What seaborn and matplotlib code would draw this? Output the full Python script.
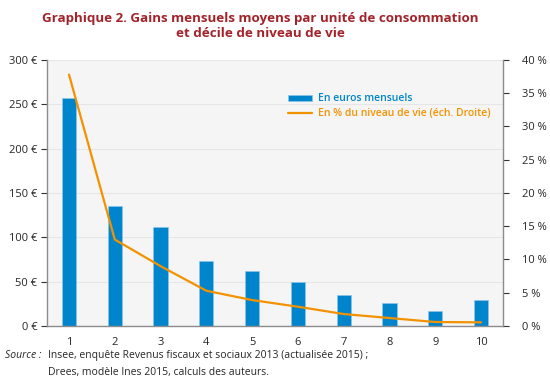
import numpy as np
import pandas as pd
import matplotlib
matplotlib.use('Agg')
import matplotlib.pyplot as plt
import seaborn as sns
from matplotlib.ticker import FuncFormatter

# Données
deciles = ['1', '2', '3', '4', '5', '6', '7', '8', '9', '10']
gains_euros = [257, 135, 112, 73, 62, 50, 35, 26, 17, 29]
gains_pct = [37.8, 13.0, 9.0, 5.3, 3.9, 2.9, 1.8, 1.2, 0.6, 0.55]

sns.set_theme(style='white')
plt.rcParams['font.family'] = ['Open Sans', 'DejaVu Sans']

bleu = '#0085CC'
orange = '#F39200'
rouge = '#A3232A'

df = pd.DataFrame({'decile': deciles, 'euros': gains_euros, 'pct': gains_pct})

fig = plt.figure(figsize=(5.5, 3.88), dpi=100)
ax = fig.add_axes([0.0855, 0.1598, 0.829, 0.6856])
ax.set_facecolor('#F5F5F5')

sns.barplot(data=df, x='decile', y='euros', color=bleu, width=0.31,
            edgecolor='#8CC6EA', linewidth=0.5, saturation=1, ax=ax,
            label='En euros mensuels')
ax.set_ylim(0, 300)
ax.set_xlim(-0.48, 9.48)
ax.set_yticks(range(0, 301, 50))
ax.yaxis.set_major_formatter(FuncFormatter(lambda v, p: f'{int(v)} €'))
ax.grid(axis='y', color='#E6E6E6', linewidth=0.8)
ax.set_axisbelow(True)
ax.set_xlabel('')
ax.set_ylabel('')
ax.tick_params(axis='y', left=True, length=4, width=0.8, color='#333333',
               labelsize=8, pad=3)
ax.tick_params(axis='x', bottom=False, labelsize=8, pad=2)
ax.spines['top'].set_visible(False)
ax.spines['right'].set_visible(False)
for s in ['left', 'bottom']:
    ax.spines[s].set_color('#8C8C8C')
    ax.spines[s].set_linewidth(1.0)

ax2 = ax.twinx()
sns.lineplot(x=np.arange(len(deciles)), y=gains_pct, color=orange,
             linewidth=1.6, ax=ax2, label='En % du niveau de vie (éch. Droite)')
ax2.set_ylim(0, 40)
ax2.set_yticks(range(0, 41, 5))
ax2.yaxis.set_major_formatter(FuncFormatter(lambda v, p: f'{int(v)} %'))
ax2.tick_params(axis='y', right=True, length=4, width=0.8, color='#333333',
                labelsize=8, pad=10)
for s in ['top', 'left', 'bottom']:
    ax2.spines[s].set_visible(False)
ax2.spines['right'].set_color('#8C8C8C')
ax2.spines['right'].set_linewidth(1.0)
ax2.set_ylabel('')
ax2.grid(False)

h1, l1 = ax.get_legend_handles_labels()
h2, l2 = ax2.get_legend_handles_labels()
if ax.get_legend():
    ax.get_legend().remove()
leg = ax2.legend(h1 + h2, l1 + l2, loc='upper left',
                 bbox_to_anchor=(0.52, 0.89), frameon=False,
                 prop={'size': 7.5, 'weight': 'semibold'},
                 handlelength=2.3, handleheight=0.5, labelspacing=0.35,
                 borderaxespad=0, handletextpad=0.6)
for txt, c in zip(leg.get_texts(), [bleu, orange]):
    txt.set_color(c)

fig.text(0.473, 0.97, 'Graphique 2. Gains mensuels moyens par unité de consommation\net décile de niveau de vie',
         ha='center', va='top', fontsize=9.6, fontweight='bold', color=rouge,
         linespacing=1.25)

fig.text(0.009, 0.083, 'Source :', style='italic', fontsize=7.5, va='center')
fig.text(0.087, 0.083, 'Insee, enquête Revenus fiscaux et sociaux 2013 (actualisée 2015) ;',
         fontsize=7.5, va='center')
fig.text(0.087, 0.041, 'Drees, modèle Ines 2015, calculs des auteurs.',
         fontsize=7.5, va='center')

fig.savefig('out.png', dpi=100)
